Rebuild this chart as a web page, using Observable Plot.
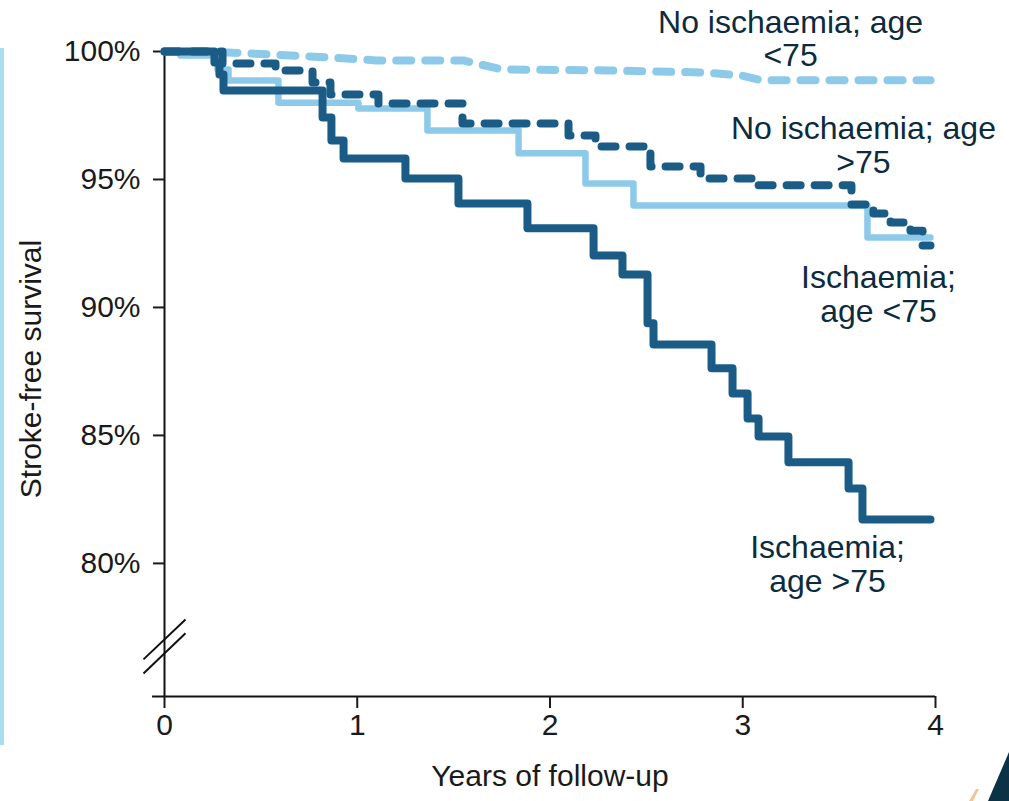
<!DOCTYPE html>
<html><head><meta charset="utf-8">
<script src="https://cdn.jsdelivr.net/npm/d3@7"></script>
<script src="https://cdn.jsdelivr.net/npm/@observablehq/plot@0.6"></script>
<style>
html,body{margin:0;padding:0;background:#fff;}
#wrap{position:relative;width:1009px;height:801px;overflow:hidden;}
#sidebar{position:absolute;left:0;top:48px;width:4px;height:697px;background:#a9ddf2;}
#corner{position:absolute;left:0;top:0;pointer-events:none;}
</style></head><body>
<div id="wrap"><div id="sidebar"></div></div>
<script>
// ---- Data ----
const xTicks = [0, 1, 2, 3, 4];
const yTicks = [80, 85, 90, 95, 100];

// Ischaemia; age >75 (dark solid)
const ischOldYears = [0, 0.259, 0.285, 0.306, 0.820, 0.866, 0.929, 1.250, 1.525, 1.883, 2.226, 2.376, 2.506, 2.537, 2.838, 2.947, 3.025, 3.082, 3.237, 3.549, 3.621, 3.974];
const ischOldSurv  = [100, 99.57, 99.10, 98.48, 97.42, 96.52, 95.82, 95.04, 94.06, 93.09, 92.03, 91.29, 89.38, 88.55, 87.62, 86.64, 85.66, 84.96, 83.95, 82.93, 81.72, 81.72];

// Ischaemia; age <75 (light solid)
const ischYoungYears = [0, 0.083, 0.275, 0.332, 0.591, 1.006, 1.364, 1.837, 2.184, 2.433, 3.647, 3.974];
const ischYoungSurv  = [100, 99.84, 99.30, 98.87, 98.00, 97.77, 96.91, 96.02, 94.84, 93.98, 92.73, 92.73];

// No ischaemia; age >75 (dark dashed)
const noIschOldYears = [0, 0.301, 0.576, 0.768, 0.861, 1.110, 1.546, 2.096, 2.236, 2.521, 2.781, 3.077, 3.564, 3.678, 3.767, 3.870, 3.933, 3.974];
const noIschOldSurv  = [100, 99.53, 99.26, 98.79, 98.32, 97.97, 97.19, 96.72, 96.29, 95.51, 95.04, 94.77, 94.02, 93.67, 93.32, 93.00, 92.42, 92.42];

// No ischaemia; age <75 (light dashed)
const noIschYoungYears = [0, 0.202, 0.451, 0.851, 1.100, 1.551, 1.748, 2.298, 2.796, 2.994, 3.092, 3.974];
const noIschYoungSurv  = [100, 100, 99.92, 99.77, 99.65, 99.65, 99.30, 99.26, 99.18, 99.06, 98.88, 98.88];

// Curve labels
const labelText = ["No ischaemia; age\n<75", "No ischaemia; age\n>75", "Ischaemia;\nage <75", "Ischaemia;\nage >75"];
const labelYears = [3.248, 3.626, 3.704, 3.440];
const labelSurv  = [100.49, 96.33, 90.51, 79.96];

// Axis break marks (data units)
const breakX1 = [-0.109, -0.109];
const breakY1 = [76.25, 75.70];
const breakX2 = [0.109, 0.109];
const breakY2 = [77.81, 77.27];

const yBase = 74.8;
const xAxisStart = -0.062;

// ---- Build ----
const DARK = "#1a5c86";
const LIGHT = "#8dcaea";
const TEXT = "#0c2b3e";

const series = (xs, ys) => xs.map((x, i) => ({x, y: ys[i]}));
const ischOld = series(ischOldYears, ischOldSurv);
const ischYoung = series(ischYoungYears, ischYoungSurv);
const noIschOld = series(noIschOldYears, noIschOldSurv);
const noIschYoung = series(noIschYoungYears, noIschYoungSurv);
const labels = labelText.map((t, i) => ({text: t, x: labelYears[i], y: labelSurv[i]}));
const breaks = breakX1.map((x1, i) => ({x1, y1: breakY1[i], x2: breakX2[i], y2: breakY2[i]}));

const chart = Plot.plot({
  width: 1009,
  height: 801,
  marginTop: 51,
  marginBottom: 105,
  marginLeft: 164,
  marginRight: 74,
  style: {fontFamily: "Liberation Sans, Arial, sans-serif", background: "white", color: "#1a1a1a"},
  x: {domain: [0, 4]},
  y: {domain: [yBase, 100]},
  marks: [
    Plot.ruleX([0], {y1: yBase, y2: 100, stroke: "#111", strokeWidth: 2}),
    Plot.ruleY([yBase], {x1: xAxisStart, x2: 4, stroke: "#111", strokeWidth: 2}),
    Plot.link(breaks, {x1: "x1", y1: "y1", x2: "x2", y2: "y2", stroke: "#111", strokeWidth: 2}),
    Plot.axisY({ticks: yTicks, tickFormat: d => d + "%", tickSize: 11, tickPadding: 13, fontSize: 30, label: null, strokeWidth: 2, color: "#1a1a1a"}),
    Plot.axisX({ticks: xTicks, tickFormat: d => String(d), tickSize: 12, tickPadding: 5, fontSize: 30, label: null, strokeWidth: 2, color: "#1a1a1a"}),
    Plot.line(noIschYoung, {x: "x", y: "y", curve: "linear", stroke: LIGHT, strokeWidth: 8, strokeDasharray: "15,14", strokeLinecap: "round", strokeLinejoin: "round"}),
    Plot.line(ischYoung, {x: "x", y: "y", curve: "step-after", stroke: LIGHT, strokeWidth: 6.5, strokeLinecap: "round", strokeLinejoin: "round"}),
    Plot.line(ischOld, {x: "x", y: "y", curve: "step-after", stroke: DARK, strokeWidth: 8, strokeLinecap: "round", strokeLinejoin: "round"}),
    Plot.line(noIschOld, {x: "x", y: "y", curve: "step-after", stroke: DARK, strokeWidth: 8, strokeDasharray: "14,14", strokeLinecap: "round", strokeLinejoin: "round"}),
    Plot.text(labels, {x: "x", y: "y", text: "text", fontSize: 32, lineHeight: 1.04, fill: TEXT, textAnchor: "middle"}),
    Plot.text(["Stroke-free survival"], {text: d => d, frameAnchor: "left", dx: -133, dy: -5, rotate: -90, textAnchor: "middle", fontSize: 30, fill: "#1a1a1a"}),
    Plot.text(["Years of follow-up"], {text: d => d, frameAnchor: "bottom", dy: 89, textAnchor: "middle", fontSize: 30, fill: "#1a1a1a"})
  ]
});
const wrap = document.getElementById("wrap");
wrap.insertBefore(chart, wrap.firstChild);

// Decorative corner (not data)
const ns = "http://www.w3.org/2000/svg";
const deco = document.createElementNS(ns, "svg");
deco.setAttribute("id", "corner");
deco.setAttribute("width", 1009);
deco.setAttribute("height", 801);
deco.innerHTML = '<polygon points="988,801 1009,752 1009,801" fill="#0b3245"/>' +
                 '<polygon points="969,801 976,789 979,789 973,801" fill="#f6c493"/>';
wrap.appendChild(deco);
</script>
</body></html>
